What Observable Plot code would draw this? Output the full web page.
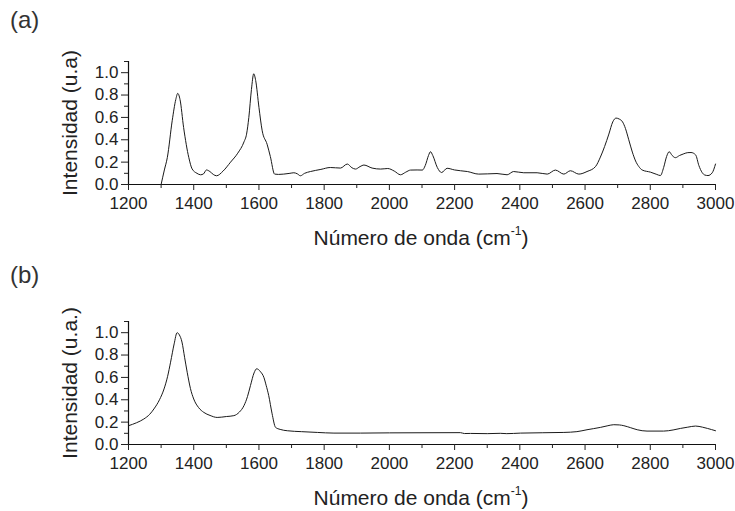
<!DOCTYPE html>
<html><head><meta charset="utf-8">
<script src="https://cdn.jsdelivr.net/npm/d3@7"></script>
<script src="https://cdn.jsdelivr.net/npm/@observablehq/plot@0.6"></script>
<style>
body{margin:0;background:#fff;font-family:"Liberation Sans",Arial,sans-serif;}
#wrap{position:relative;width:735px;height:511px;overflow:hidden;}
.panel{position:absolute;left:0;width:735px;}
.tag{position:absolute;left:10px;font-size:24px;line-height:1;color:#333;}
.xt{position:absolute;left:421px;font-size:21px;line-height:1;color:#222;transform:translateX(-50%);white-space:nowrap;}
.xt sup{font-size:12px;vertical-align:10px;line-height:0;}
</style>
</head><body>
<div id="wrap"></div>
<script>
// Panel (a) spectrum
const waveA = [1300,1310,1319,1334,1345,1351,1358,1369,1385,1395,1410,1421,1430,1439,1450,1460,1470,1490,1513,1535,1554,1562,1569,1577,1584,1590,1600,1610,1625,1635,1648,1660,1676,1695,1707,1718,1727,1740,1758,1790,1819,1850,1871,1885,1896,1910,1922,1947,1973,1995,2015,2034,2050,2065,2085,2101,2110,2120,2126,2133,2147,2160,2177,2200,2218,2239,2274,2300,2330,2361,2381,2412,2453,2484,2509,2535,2555,2581,2606,2632,2647,2660,2673,2685,2695,2705,2715,2724,2734,2745,2755,2765,2775,2801,2820,2831,2841,2850,2858,2867,2877,2890,2903,2915,2925,2939,2949,2959,2967,2977,2990,3000];
const intensityA = [0.0,0.13,0.24,0.57,0.76,0.815,0.76,0.51,0.24,0.14,0.10,0.087,0.095,0.13,0.115,0.09,0.078,0.12,0.2,0.28,0.38,0.45,0.6,0.85,0.99,0.93,0.69,0.48,0.36,0.25,0.093,0.09,0.093,0.1,0.105,0.095,0.078,0.1,0.116,0.135,0.152,0.147,0.183,0.15,0.138,0.16,0.174,0.147,0.138,0.143,0.12,0.087,0.11,0.129,0.13,0.129,0.17,0.26,0.293,0.26,0.152,0.107,0.145,0.13,0.123,0.116,0.093,0.095,0.098,0.087,0.116,0.105,0.105,0.093,0.129,0.093,0.123,0.093,0.116,0.16,0.245,0.34,0.451,0.56,0.594,0.585,0.56,0.5,0.4,0.29,0.21,0.16,0.13,0.11,0.09,0.08,0.152,0.25,0.293,0.26,0.24,0.26,0.275,0.285,0.286,0.265,0.17,0.107,0.085,0.08,0.105,0.183];

// Panel (b) spectrum
const waveB = [1200,1225,1247,1265,1278,1295,1309,1320,1329,1340,1349,1356,1364,1372,1380,1390,1400,1415,1431,1450,1472,1500,1523,1540,1554,1565,1574,1585,1593,1605,1615,1622,1630,1640,1651,1665,1687,1730,1779,1830,1911,2000,2100,2218,2230,2249,2300,2340,2360,2402,2535,2575,2606,2647,2670,2688,2705,2719,2740,2760,2790,2841,2870,2893,2915,2939,2960,2975,3000];
const intensityB = [0.168,0.195,0.228,0.27,0.318,0.40,0.497,0.61,0.736,0.90,1.0,0.98,0.916,0.78,0.646,0.50,0.407,0.33,0.287,0.26,0.242,0.25,0.258,0.29,0.347,0.43,0.527,0.64,0.677,0.65,0.601,0.53,0.437,0.28,0.153,0.135,0.123,0.115,0.108,0.102,0.102,0.104,0.105,0.106,0.098,0.099,0.097,0.1,0.097,0.102,0.108,0.115,0.132,0.153,0.168,0.177,0.175,0.168,0.15,0.132,0.12,0.12,0.13,0.144,0.155,0.165,0.155,0.144,0.123];

// Axes ticks and texts
const xMajor = [1200,1400,1600,1800,2000,2200,2400,2600,2800,3000];
const xMinor = [1300,1500,1700,1900,2100,2300,2500,2700,2900];
const yMajor = [0,0.2,0.4,0.6,0.8,1.0];
const yMinor = [0.1,0.3,0.5,0.7,0.9,1.1];
const panelTags = ["(a)", "(b)"];
const yTitles = ["Intensidad (u.a)", "Intensidad (u.a.)"];
const xTitle = "Número de onda (cm";
const xTitleSup = "-1";

const panels = [
  {wave: waveA, val: intensityA, top: 0, height: 255, mt: 61, mb: 71},
  {wave: waveB, val: intensityB, top: 255, height: 256, mt: 66, mb: 67}
];

const wrap = document.getElementById("wrap");
panels.forEach((p, i) => {
  const data = p.wave.map((w, k) => ({w, v: p.val[k]}));
  const chart = Plot.plot({
    width: 735,
    height: p.height,
    marginLeft: 128,
    marginRight: 20,
    marginTop: p.mt,
    marginBottom: p.mb,
    style: {fontFamily: "Liberation Sans, Arial, sans-serif", fontSize: "17px", color: "#222", background: "white", overflow: "visible"},
    x: {domain: [1200, 3000], label: null},
    y: {domain: [0, 1.1], label: null},
    marks: [
      Plot.ruleY([0], {stroke: "#111", strokeWidth: 1.2}),
      Plot.ruleX([1200], {stroke: "#111", strokeWidth: 1.2}),
      Plot.axisX({ticks: xMajor, tickSize: 6, tickPadding: 6, tickFormat: d3.format("d"), fontSize: 17, color: "#222"}),
      Plot.axisX({ticks: xMinor, tickSize: 4, tickFormat: () => "", color: "#222"}),
      Plot.axisY({ticks: yMajor, tickSize: 7, tickPadding: 3, tickFormat: d3.format(".1f"), fontSize: 17, color: "#222"}),
      Plot.axisY({ticks: yMinor, tickSize: 4, tickFormat: () => "", color: "#222"}),
      Plot.line(data, {x: "w", y: "v", stroke: "#1a1a1a", strokeWidth: 1, curve: "monotone-x"}),
      Plot.text([yTitles[i]], {text: d => d, frameAnchor: "left", textAnchor: "middle", lineAnchor: "middle", rotate: -90, dx: -58, fontSize: 21, fill: "#222"})
    ]
  });
  const div = document.createElement("div");
  div.className = "panel";
  div.style.top = p.top + "px";
  div.style.height = p.height + "px";
  div.appendChild(chart);
  const tag = document.createElement("div");
  tag.className = "tag";
  tag.style.top = "8px";
  tag.textContent = panelTags[i];
  div.appendChild(tag);
  const xt = document.createElement("div");
  xt.className = "xt";
  xt.style.top = (p.height - p.mb + 43) + "px";
  xt.appendChild(document.createTextNode(xTitle));
  const sup = document.createElement("sup");
  sup.textContent = xTitleSup;
  xt.appendChild(sup);
  xt.appendChild(document.createTextNode(")"));
  div.appendChild(xt);
  wrap.appendChild(div);
});
</script>
</body></html>
